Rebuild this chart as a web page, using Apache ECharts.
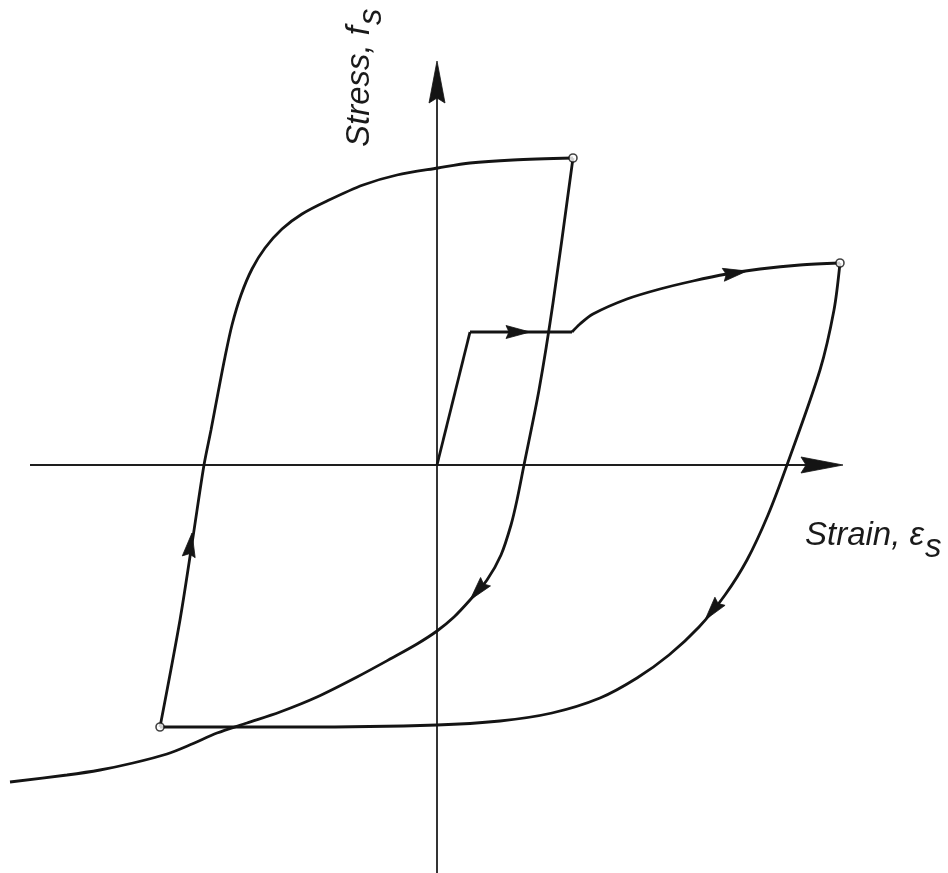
<!DOCTYPE html>
<html>
<head>
<meta charset="utf-8">
<script src="https://cdn.jsdelivr.net/npm/echarts@6/dist/echarts.min.js"></script>
<style>
  html, body { margin: 0; padding: 0; background: #ffffff; }
  #chart { width: 948px; height: 873px; }
</style>
</head>
<body>
<div id="chart"></div>
<script>
// Cyclic stress-strain history of reinforcing steel (arbitrary units).
// Each branch is a list of [strain, stress] pairs.
const elasticBranch = [[0, 0], [0.33, 1.33]];
const yieldPlateau = [[0.33, 1.33], [1.35, 1.33]];
const hardeningBranch = [[1.35, 1.33], [1.43, 1.41], [1.56, 1.51], [1.90, 1.66], [2.23, 1.76], [2.56, 1.84],
  [2.90, 1.91], [3.23, 1.96], [3.63, 2.00], [4.03, 2.02]];
const firstUnloading = [[4.03, 2.02], [3.97, 1.55], [3.83, 0.95], [3.50, 0], [3.31, -0.50], [3.10, -0.95],
  [2.88, -1.30], [2.62, -1.62], [2.32, -1.90], [2.00, -2.13], [1.63, -2.33], [1.15, -2.48], [0.63, -2.56],
  [0, -2.60], [-1.37, -2.62], [-2.77, -2.62]];
const reloadingBranch = [[-2.77, -2.62], [-2.57, -1.55], [-2.44, -0.72], [-2.33, 0], [-2.26, 0.35],
  [-2.19, 0.72], [-2.12, 1.08], [-2.05, 1.40], [-1.96, 1.70], [-1.85, 1.96], [-1.72, 2.17], [-1.55, 2.36],
  [-1.35, 2.51], [-1.10, 2.64], [-0.74, 2.80], [-0.40, 2.90], [0.01, 2.97], [0.33, 3.02], [0.76, 3.05],
  [1.36, 3.07]];
const secondUnloading = [[1.36, 3.07], [1.16, 1.62], [1.02, 0.75], [0.87, 0], [0.80, -0.35], [0.74, -0.60],
  [0.64, -0.90], [0.50, -1.15], [0.33, -1.35], [0.17, -1.52], [0, -1.66], [-0.20, -1.79], [-0.45, -1.93],
  [-0.80, -2.12], [-1.20, -2.32], [-1.57, -2.47], [-1.90, -2.58], [-2.20, -2.68], [-2.45, -2.79],
  [-2.70, -2.89], [-3.04, -2.98], [-3.37, -3.05], [-3.70, -3.10], [-4.27, -3.17]];

// Load reversal points (open circles)
const reversalPoints = [[1.36, 3.07], [4.03, 2.02], [-2.77, -2.62]];

// Drawn axes through the origin
const strainAxisLine = [[-4.07, 0], [4.00, 0]];
const stressAxisLine = [[0, -4.08], [0, 3.98]];

// Arrow heads: [tipStrain, tipStress, tailStrain, tailStress]
const axisArrowHeads = [[4.06, 0, 3.5, 0], [0, 4.04, 0, 3.5]];
const pathArrowHeads = [[0.93, 1.33, 0.70, 1.33], [3.10, 1.94, 2.85, 1.90], [2.68, -1.55, 2.84, -1.35],
  [0.33, -1.35, 0.50, -1.15], [-2.45, -0.68, -2.57, -1.55]];

const axisLabelX = 'Strain, ε';
const axisLabelY = 'Stress, f';
const subscript = 's';

const INK = '#141414';
const FONT = '"Liberation Sans", Arial, Helvetica, sans-serif';
const FONT_SIZE = 33;

const chart = echarts.init(document.getElementById('chart'), null, { renderer: 'canvas' });

function curve(data, smooth) {
  return {
    type: 'line', data: data, smooth: smooth, showSymbol: false, silent: true,
    lineStyle: { color: INK, width: 2.8 }, z: 3
  };
}
function axisLine(data) {
  return {
    type: 'line', data: data, showSymbol: false, silent: true,
    lineStyle: { color: '#1e1e1e', width: 1.8 }, z: 2
  };
}
function arrowSeries(data, len, halfW, notch) {
  return {
    type: 'custom', data: data, silent: true, z: 5,
    dimensions: ['x1', 'y1', 'x2', 'y2'],
    encode: { x: [0, 2], y: [1, 3] },
    renderItem: function (params, api) {
      const tip = api.coord([api.value(0), api.value(1)]);
      const tail = api.coord([api.value(2), api.value(3)]);
      let dx = tip[0] - tail[0], dy = tip[1] - tail[1];
      const d = Math.hypot(dx, dy); dx /= d; dy /= d;
      const nx = -dy, ny = dx;
      const bx = tip[0] - dx * len, by = tip[1] - dy * len;
      const mx = tip[0] - dx * (len - notch), my = tip[1] - dy * (len - notch);
      return {
        type: 'polygon',
        shape: { points: [tip, [bx + nx * halfW, by + ny * halfW], [mx, my], [bx - nx * halfW, by - ny * halfW]] },
        style: { fill: INK, stroke: INK, lineWidth: 0.8 }
      };
    }
  };
}

// text width helper for placing subscripts
const measureCtx = document.createElement('canvas').getContext('2d');
measureCtx.font = 'italic ' + FONT_SIZE + 'px ' + FONT;
const wX = measureCtx.measureText(axisLabelX).width;
const wY = measureCtx.measureText(axisLabelY).width;

const textStyle = { fill: '#1a1a1a', font: 'italic ' + FONT_SIZE + 'px ' + FONT };

chart.setOption({
  animation: false,
  backgroundColor: '#ffffff',
  grid: { left: 0, right: 0, top: 0, bottom: 0 },
  xAxis: { type: 'value', min: -4.37, max: 5.11, show: false },
  yAxis: { type: 'value', min: -4.08, max: 4.65, show: false },
  series: [
    axisLine(strainAxisLine),
    axisLine(stressAxisLine),
    curve(elasticBranch, false),
    curve(yieldPlateau, false),
    curve(hardeningBranch, 0.3),
    curve(firstUnloading, 0.3),
    curve(reloadingBranch, 0.3),
    curve(secondUnloading, 0.3),
    arrowSeries(axisArrowHeads, 42, 8, 5),
    arrowSeries(pathArrowHeads, 24, 6.5, 3),
    {
      type: 'scatter', data: reversalPoints, symbol: 'circle', symbolSize: 8, silent: true, z: 6,
      itemStyle: { color: '#ffffff', borderColor: INK, borderWidth: 1.6 }
    }
  ],
  graphic: [
    {
      type: 'group', x: 805, y: 536, silent: true,
      children: [
        { type: 'text', x: 0, y: 0, style: Object.assign({ text: axisLabelX, textAlign: 'left', textVerticalAlign: 'middle' }, textStyle) },
        { type: 'text', x: wX + 1, y: 12, style: Object.assign({ text: subscript, textAlign: 'left', textVerticalAlign: 'middle' }, textStyle) }
      ]
    },
    {
      type: 'group', x: 360, y: 147, rotation: Math.PI / 2, silent: true,
      children: [
        { type: 'text', x: 0, y: 0, style: Object.assign({ text: axisLabelY, textAlign: 'left', textVerticalAlign: 'middle' }, textStyle) },
        { type: 'text', x: wY + 1, y: 12, style: Object.assign({ text: subscript, textAlign: 'left', textVerticalAlign: 'middle' }, textStyle) }
      ]
    }
  ]
});
</script>
</body>
</html>
